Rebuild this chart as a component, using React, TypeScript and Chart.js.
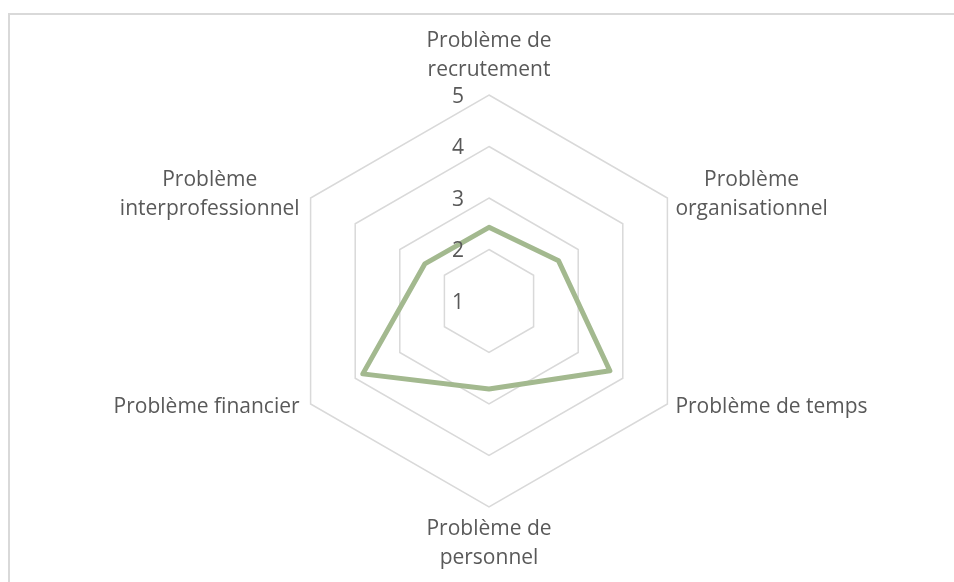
import React, { useEffect, useRef } from "react";
import { Chart, registerables } from "chart.js";

Chart.register(...registerables);

// ---- Data ----
const categories: string[][] = [
  ["Problème de", "recrutement"],
  ["Problème", "organisationnel"],
  ["Problème de temps"],
  ["Problème de", "personnel"],
  ["Problème financier"],
  ["Problème", "interprofessionnel"],
];
const seriesValues: number[] = [2.43, 2.56, 3.71, 2.71, 3.83, 2.44];
const tickValues: number[] = [1, 2, 3, 4, 5];
const scaleMin = 1;
const scaleMax = 5;

const FONT = "21px 'Open Sans'";
const TEXT_COLOR = "#595959";
const GRID_COLOR = "#d9d9d9";
const LINE_COLOR = "#a3b98f";

const excelPlugin = {
  id: "excelDecor",
  beforeDraw(chart: any) {
    const ctx = chart.ctx;
    ctx.save();
    ctx.strokeStyle = GRID_COLOR;
    ctx.lineWidth = 2;
    ctx.beginPath();
    ctx.moveTo(9, 2000);
    ctx.lineTo(9, 14);
    ctx.lineTo(2000, 14);
    ctx.stroke();
    ctx.restore();
  },
  afterDatasetsDraw(chart: any) {
    const scale = chart.scales.r;
    const ctx = chart.ctx;
    ctx.save();
    ctx.font = FONT;
    ctx.fillStyle = TEXT_COLOR;
    ctx.textBaseline = "middle";
    // tick labels, left of vertical axis
    ctx.textAlign = "right";
    tickValues.forEach((v) => {
      const d = scale.getDistanceFromCenterForValue(v);
      ctx.fillText(String(v), scale.xCenter - 25, scale.yCenter - d + 2);
    });
    // category labels
    ctx.textAlign = "center";
    const lh = 29;
    categories.forEach((lines, i) => {
      const p = scale.getPointPosition(i, scale.drawingArea);
      const w = Math.max(...lines.map((l) => ctx.measureText(l).width));
      const n = lines.length;
      const dx = p.x - scale.xCenter;
      let cx: number;
      let firstY: number;
      if (Math.abs(dx) < 1) {
        cx = p.x;
        if (p.y < scale.yCenter) {
          firstY = p.y - 25 - (n - 1) * lh;
        } else {
          firstY = p.y + 22;
        }
      } else {
        const cy = p.y + (p.y < scale.yCenter ? -3 : 3);
        firstY = cy - ((n - 1) * lh) / 2;
        if (dx > 0) {
          cx = p.x + 8 + w / 2;
        } else {
          cx = p.x - 11 - w / 2;
        }
      }
      lines.forEach((l, k) => ctx.fillText(l, cx, firstY + k * lh));
    });
    ctx.restore();
  },
};

export default function App() {
  const ref = useRef<HTMLCanvasElement | null>(null);
  useEffect(() => {
    if (!ref.current) return;
    const chart = new Chart(ref.current, {
      type: "radar",
      data: {
        labels: categories.map((c) => c.join(" ")),
        datasets: [
          {
            label: "Série",
            data: seriesValues,
            borderColor: LINE_COLOR,
            borderWidth: 5,
            borderJoinStyle: "round",
            backgroundColor: "rgba(0,0,0,0)",
            fill: false,
            pointRadius: 0,
            pointHoverRadius: 0,
          },
        ],
      },
      options: {
        animation: false,
        responsive: false,
        maintainAspectRatio: false,
        layout: { padding: { left: 100, right: 76, top: 95, bottom: 75 } },
        plugins: { legend: { display: false }, tooltip: { enabled: false } },
        scales: {
          r: {
            min: scaleMin,
            max: scaleMax,
            ticks: { display: false, stepSize: 1 },
            pointLabels: { display: false },
            angleLines: { display: false },
            grid: { color: GRID_COLOR, lineWidth: 1.5, circular: false },
          },
        },
      },
      plugins: [excelPlugin],
    });
    return () => chart.destroy();
  }, []);
  return (
    <div style={{ position: "absolute", left: 0, top: 0, width: 954, height: 582, background: "#fff" }}>
      <canvas ref={ref} width={954} height={582} style={{ width: 954, height: 582, display: "block" }} />
    </div>
  );
}
